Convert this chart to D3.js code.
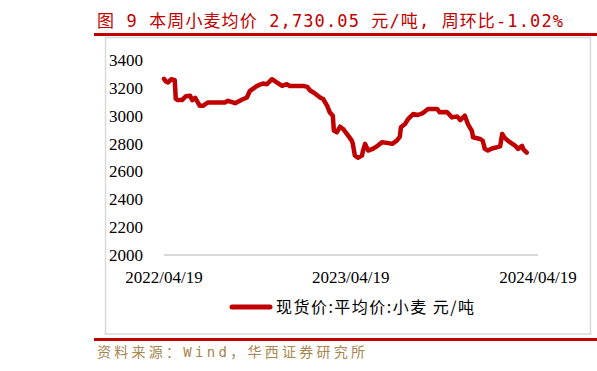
<!DOCTYPE html>
<html>
<head>
<meta charset="utf-8">
<script src="https://cdn.jsdelivr.net/npm/d3@7"></script>
<style>
  body { margin: 0; background: #fff; }
  svg { display: block; }
</style>
</head>
<body>
<svg id="chart"></svg>
<script>
// 现货价:平均价:小麦 (元/吨)
const dates = [
  "2022-04-19","2022-04-23","2022-04-27","2022-05-03","2022-05-10","2022-05-12","2022-05-16","2022-05-24",
  "2022-06-01","2022-06-09","2022-06-13","2022-06-19","2022-06-28","2022-07-04","2022-07-14","2022-08-16",
  "2022-08-22","2022-09-05","2022-09-18","2022-09-28","2022-10-04","2022-10-18","2022-10-29","2022-11-06",
  "2022-11-16","2022-11-26","2022-12-06","2022-12-15","2022-12-21","2023-01-16","2023-01-24","2023-01-29",
  "2023-02-08","2023-02-18","2023-02-24","2023-03-04","2023-03-09","2023-03-15","2023-03-17","2023-03-23",
  "2023-03-29","2023-04-04","2023-04-14","2023-04-21","2023-04-23","2023-04-27","2023-05-03","2023-05-11",
  "2023-05-13","2023-05-17","2023-05-23","2023-06-01","2023-06-11","2023-06-19","2023-06-29","2023-07-09",
  "2023-07-18","2023-07-24","2023-07-26","2023-08-03","2023-08-09","2023-08-19","2023-08-28","2023-09-07",
  "2023-09-17","2023-10-05","2023-10-10","2023-10-24","2023-11-03","2023-11-13","2023-11-19","2023-11-28",
  "2023-12-04","2023-12-12","2023-12-14","2023-12-28","2024-01-02","2024-01-06","2024-01-12","2024-01-20",
  "2024-01-30","2024-02-05","2024-02-09","2024-02-14","2024-02-24","2024-03-05","2024-03-11","2024-03-19",
  "2024-03-21","2024-03-28"
];
const prices = [
  3265, 3245, 3238, 3262, 3255, 3121, 3112, 3112,
  3140, 3143, 3112, 3128, 3071, 3071, 3095, 3095,
  3107, 3090, 3115, 3131, 3179, 3214, 3231, 3226,
  3262, 3238, 3214, 3226, 3214, 3214, 3207, 3183,
  3160, 3131, 3120, 3071, 3024, 3000, 2893, 2881,
  2921, 2905, 2857, 2821, 2800, 2714, 2698, 2714,
  2750, 2798, 2750, 2762, 2786, 2810, 2805, 2798,
  2821, 2850, 2917, 2940, 2976, 3012, 3005, 3019,
  3048, 3048, 3024, 3026, 2988, 2995, 2969, 3000,
  2940, 2890, 2845, 2833, 2820, 2762, 2750, 2765,
  2774, 2780, 2869, 2840, 2810, 2786, 2762, 2783,
  2760, 2735
];
const xTickLabels = ["2022/04/19", "2023/04/19", "2024/04/19"];
const yTicks = [2000, 2200, 2400, 2600, 2800, 3000, 3200, 3400];

const titleText = "图 9 本周小麦均价 2,730.05 元/吨, 周环比-1.02%";
const legendText = "现货价:平均价:小麦 元/吨";
const sourceText = "资料来源：Wind，华西证券研究所";

const width = 597, height = 371;
const red = "#c00000";
const monoCjk = "'DejaVu Sans Mono', 'Noto Sans CJK SC', monospace";
const parse = d3.timeParse("%Y-%m-%d");
const parseTick = d3.timeParse("%Y/%m/%d");
const data = dates.map((d, i) => ({ date: parse(d), value: prices[i] }));

const svg = d3.select("#chart").attr("width", width).attr("height", height);

// title
svg.append("text")
  .attr("x", 97).attr("y", 27)
  .attr("font-family", monoCjk)
  .attr("font-size", 17)
  .attr("fill", red)
  .attr("textLength", 466)
  .attr("lengthAdjust", "spacing")
  .text(titleText);

svg.append("rect").attr("x", 94).attr("y", 33).attr("width", width - 94).attr("height", 3).attr("fill", red);
svg.append("rect").attr("x", 94).attr("y", 338).attr("width", width - 94).attr("height", 3).attr("fill", red);

// frame
svg.append("rect")
  .attr("x", 105.5).attr("y", 37.5).attr("width", 485).attr("height", 296.5)
  .attr("fill", "none").attr("stroke", "#d9d9d9").attr("stroke-width", 1.5);

const x = d3.scaleTime()
  .domain([parse("2022-04-19"), parse("2024-04-19")])
  .range([164, 538]);
const y = d3.scaleLinear().domain([2000, 3400]).range([255, 60]);

// baseline
svg.append("line")
  .attr("x1", x.range()[0]).attr("x2", x.range()[1])
  .attr("y1", y(2000)).attr("y2", y(2000))
  .attr("stroke", "#d9d9d9").attr("stroke-width", 2);

// y axis labels
svg.append("g")
  .selectAll("text")
  .data(yTicks)
  .enter().append("text")
  .attr("x", 143)
  .attr("y", d => y(d))
  .attr("dy", "0.35em")
  .attr("text-anchor", "end")
  .attr("font-family", "'Liberation Serif', serif")
  .attr("font-size", 17)
  .attr("fill", "#000")
  .text(d => d);

// x axis labels
svg.append("g")
  .selectAll("text")
  .data(xTickLabels)
  .enter().append("text")
  .attr("x", d => x(parseTick(d)))
  .attr("y", 283)
  .attr("text-anchor", "middle")
  .attr("font-family", "'Liberation Serif', serif")
  .attr("font-size", 17)
  .attr("fill", "#000")
  .text(d => d);

// series
const line = d3.line()
  .x(d => x(d.date))
  .y(d => y(d.value));

svg.append("path")
  .datum(data)
  .attr("d", line)
  .attr("fill", "none")
  .attr("stroke", red)
  .attr("stroke-width", 4.5)
  .attr("stroke-linejoin", "round")
  .attr("stroke-linecap", "round");

// legend
svg.append("line")
  .attr("x1", 232).attr("x2", 270)
  .attr("y1", 307).attr("y2", 307)
  .attr("stroke", red).attr("stroke-width", 5)
  .attr("stroke-linecap", "round");

svg.append("text")
  .attr("x", 276).attr("y", 313)
  .attr("font-family", "'Noto Sans CJK SC', sans-serif")
  .attr("font-size", 16)
  .attr("fill", "#000")
  .attr("textLength", 198)
  .attr("lengthAdjust", "spacing")
  .text(legendText);

// source
svg.append("text")
  .attr("x", 97).attr("y", 357)
  .attr("font-family", monoCjk)
  .attr("font-size", 14)
  .attr("fill", "#a8864f")
  .attr("textLength", 268)
  .attr("lengthAdjust", "spacing")
  .text(sourceText);
</script>
</body>
</html>
